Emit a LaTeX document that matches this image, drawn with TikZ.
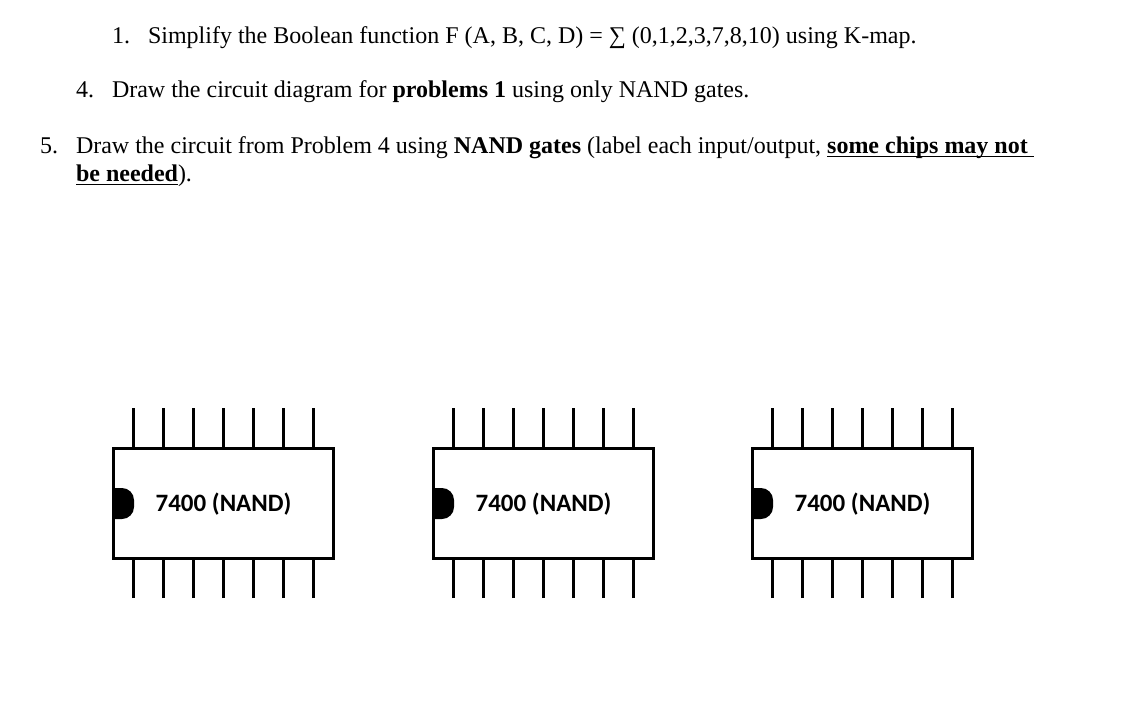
\documentclass[tikz,border=0pt]{standalone}
\usepackage{fontspec}
\setmainfont{Liberation Serif}
\newfontfamily\chipfont{Carlito}
\tikzset{
  x=1pt,y=-1pt,
  txt/.style={anchor=base west,inner sep=0pt,outer sep=0pt,font=\fontsize{24}{24}\selectfont,text=black},
  chipbox/.style={draw=black,line width=3pt,minimum width=220pt,minimum height=110pt,inner sep=0pt,outer sep=0pt,anchor=north west},
  chiplabel/.style={anchor=center,inner sep=0pt,font=\chipfont\bfseries\fontsize{25}{25}\selectfont,text=black},
  pinline/.style={line width=3pt,black},
  notch/.style={fill=black,draw=none},
  uline/.style={line width=1.6pt,black}
}
\begin{document}
\begin{tikzpicture}
\useasboundingbox (0,0) rectangle (1122,704);
\node[txt] (n1) at (112,43) {1.};
\node[txt] (l1) at (148,43) {Simplify the Boolean function F (A, B, C, D) = ∑ (0,1,2,3,7,8,10) using K-map.};
\node[txt] (n4) at (76,97) {4.};
\node[txt] (l4) at (112,97) {Draw the circuit diagram for \textbf{problems 1} using only NAND gates.};
\node[txt] (n5) at (40,153) {5.};
\node[txt] (l5) at (76,153) {Draw the circuit from Problem 4 using \textbf{NAND gates} (label each input/output,};
\node[txt] (u5) at ([xshift=6pt]l5.base east) {\textbf{some chips may not}};
\node[txt] (l6) at (76,181) {\textbf{be needed}};
\node[txt] (e6) at (l6.base east) {).};
\coordinate (u5end) at ([xshift=6pt,yshift=-3.5pt]u5.base east);
\coordinate (u5start) at ([yshift=-3.5pt]u5.base west);
\coordinate (u6start) at ([yshift=-3.5pt]l6.base west);
\coordinate (u6end) at ([yshift=-3.5pt]l6.base east);
\draw[uline] (u5start) -- (u5end);
\draw[uline] (u6start) -- (u6end);
\foreach \cx/\name in {113/a,433/b,752/c}{
  \node[chipbox] (chip\name) at (\cx,448) {};
  \fill[notch] (\cx,488) [rounded corners=12pt] -- (\cx+21,488) -- (\cx+21,519) [sharp corners] -- (\cx,519) -- cycle;
  \node[chiplabel] (lab\name) at (\cx+110.5,504) {7400 (NAND)};
  \foreach \i in {0,...,6}{
    \coordinate (t\name\i) at (\cx+20+30*\i,408);
    \coordinate (b\name\i) at (\cx+20+30*\i,598);
    \draw[pinline] (t\name\i) -- (t\name\i |- chip\name.north);
    \draw[pinline] (b\name\i) -- (b\name\i |- chip\name.south);
  }
}
\end{tikzpicture}
\end{document}
